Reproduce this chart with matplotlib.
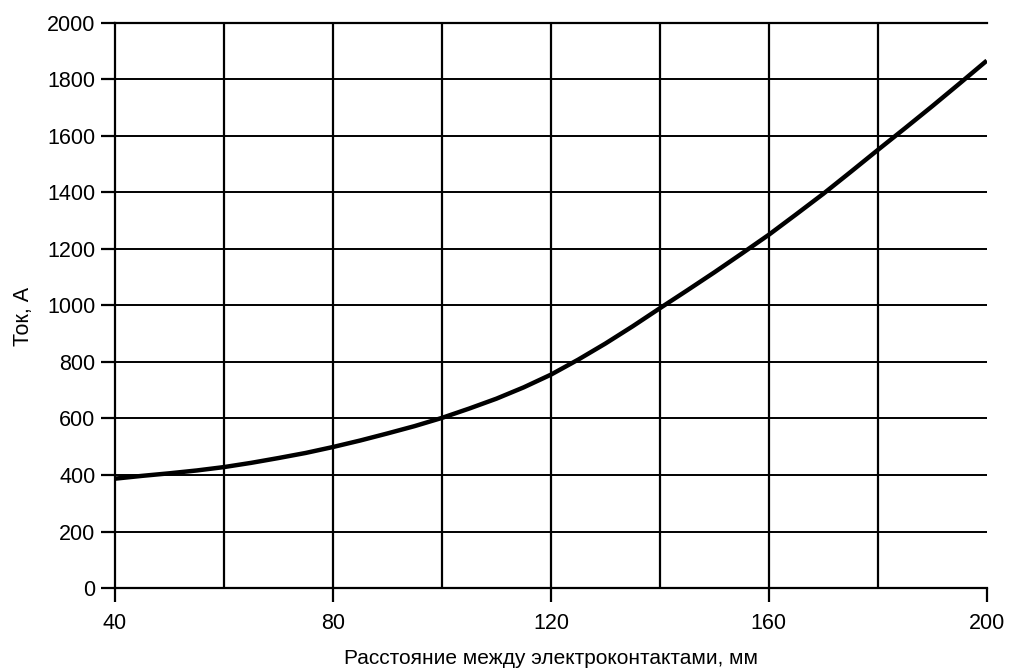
import matplotlib.pyplot as plt

# === Data ===
distance_mm = [40, 45, 50, 55, 60, 65, 70, 75, 80, 85, 90, 95, 100, 105, 110, 115,
               120, 125, 130, 135, 140, 145, 150, 155, 160, 165, 170, 175, 180,
               185, 190, 195, 200]
current_a = [387, 397, 406, 416, 428, 443, 460, 478, 499, 522, 547, 573, 602, 635,
             670, 710, 755, 808, 865, 926, 990, 1053, 1117, 1183, 1250, 1322, 1395,
             1472, 1550, 1627, 1705, 1785, 1866]

x_major = [40, 80, 120, 160, 200]
x_grid = [60, 80, 100, 120, 140, 160, 180]
y_ticks = list(range(0, 2001, 200))

plt.rcParams['font.family'] = ['Liberation Sans', 'DejaVu Sans']

fig = plt.figure(figsize=(10.09, 6.69), dpi=100)
ax = fig.add_axes([0.114, 0.121, 0.864, 0.845])

# grid
for xv in x_grid:
    ax.axvline(xv, color='black', linewidth=1.6, zorder=1)
for yv in y_ticks[1:-1]:
    ax.axhline(yv, color='black', linewidth=1.4, zorder=1)

ax.plot(distance_mm, current_a, color='black', linewidth=3.2, zorder=3,
        solid_capstyle='butt', solid_joinstyle='round')

ax.set_xlim(40, 200)
ax.set_ylim(0, 2000)
ax.set_xticks(x_major)
ax.set_yticks(y_ticks)

for side in ['left', 'bottom', 'top']:
    ax.spines[side].set_linewidth(1.6)
ax.spines['right'].set_visible(False)

ax.tick_params(axis='both', direction='out', length=10, width=1.6,
               labelsize=15.5, colors='black')
ax.tick_params(axis='x', pad=8)
ax.tick_params(axis='y', pad=4)

ax.set_xlabel('Расстояние между электроконтактами, мм', fontsize=15, labelpad=11)
ax.set_ylabel('Ток, А', fontsize=15.5)
ax.yaxis.set_label_coords(-0.093, 0.481)

plt.savefig('out.png', dpi=100)
